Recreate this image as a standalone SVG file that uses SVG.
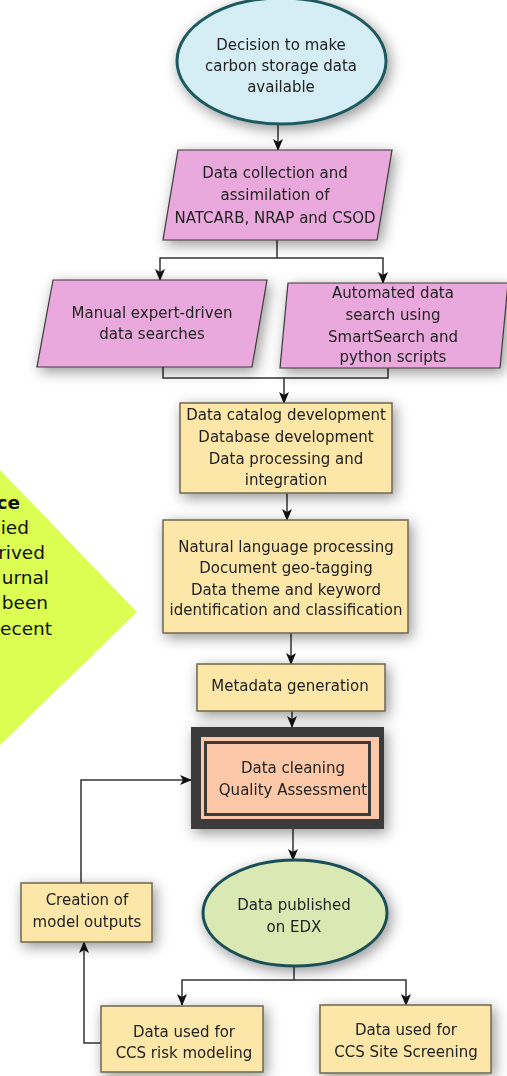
<svg xmlns="http://www.w3.org/2000/svg" width="507" height="1076" viewBox="0 0 507 1076">
  <style>
    .t { font-family: "DejaVu Sans", Verdana, sans-serif; font-size: 15px; fill: #222; text-anchor: middle; }
    .side { font-family: "DejaVu Sans", Verdana, sans-serif; font-size: 18.5px; fill: #111; text-anchor: end; }
    .box { fill: #fce6a8; stroke: #6e6650; stroke-width: 1.5; }
    .para { fill: #e9a9dc; stroke: #3a3a3a; stroke-width: 1.2; }
    .conn { fill: none; stroke: #333; stroke-width: 1.5; }
  </style>
  <defs>
    <filter id="shadow" x="-30%" y="-30%" width="160%" height="160%">
      <feDropShadow dx="3" dy="4" stdDeviation="7" flood-color="#000" flood-opacity="0.42"/>
    </filter>
    <marker id="arrow" viewBox="0 0 12 10" refX="11" refY="5" markerWidth="12" markerHeight="10" markerUnits="userSpaceOnUse" orient="auto">
      <path d="M0,0 L12,5 L0,10 L3,5 z" fill="#111"/>
    </marker>
  </defs>

  <rect width="507" height="1076" fill="#ffffff"/>

  <!-- side callout pointing right -->
  <g id="side-note">
    <polygon points="0,470 137,612 0,745" fill="#dcfd52"/>
    <text class="side" x="20" y="509" font-weight="bold">ce</text>
    <text class="side" x="29" y="534">ied</text>
    <text class="side" x="45" y="559">rived</text>
    <text class="side" x="49" y="584">urnal</text>
    <text class="side" x="48" y="609">been</text>
    <text class="side" x="52" y="635">ecent</text>
  </g>

  <!-- connectors -->
  <g id="connectors">
    <path class="conn" d="M278,124 V150" marker-end="url(#arrow)"/>
    <path class="conn" d="M277,240 V258 H160 V280" marker-end="url(#arrow)"/>
    <path class="conn" d="M277,258 H383 V283" marker-end="url(#arrow)"/>
    <path class="conn" d="M163,367 V378 H284 V403" marker-end="url(#arrow)"/>
    <path class="conn" d="M388,368 V378 H284"/>
    <path class="conn" d="M287,493 V520" marker-end="url(#arrow)"/>
    <path class="conn" d="M291,633 V664" marker-end="url(#arrow)"/>
    <path class="conn" d="M292,711 V727" marker-end="url(#arrow)"/>
    <path class="conn" d="M293,829 V860" marker-end="url(#arrow)"/>
    <path class="conn" d="M294,966 V980 H182 V1005" marker-end="url(#arrow)"/>
    <path class="conn" d="M294,980 H406 V1005" marker-end="url(#arrow)"/>
    <path class="conn" d="M101,1043 H84 V942" marker-end="url(#arrow)"/>
    <path class="conn" d="M81,883 V780 H191" marker-end="url(#arrow)"/>
  </g>

  <g id="decision" filter="url(#shadow)">
    <ellipse cx="281.5" cy="61" rx="104.5" ry="63" fill="#d5edf4" stroke="#1e5a60" stroke-width="3"/>
    <text class="t" x="281" y="50">Decision to make</text>
    <text class="t" x="281" y="71">carbon storage data</text>
    <text class="t" x="281" y="92">available</text>
  </g>

  <g id="collection" filter="url(#shadow)">
    <polygon class="para" points="178,150 392,150 377,240 163,240"/>
    <text class="t" x="275" y="178">Data collection and</text>
    <text class="t" x="275" y="200">assimilation of</text>
    <text class="t" x="275" y="223">NATCARB, NRAP and CSOD</text>
  </g>

  <g id="manual" filter="url(#shadow)">
    <polygon class="para" points="53,280 267,280 252,367 37,367"/>
    <text class="t" x="152" y="318">Manual expert-driven</text>
    <text class="t" x="152" y="339">data searches</text>
  </g>

  <g id="automated" filter="url(#shadow)">
    <polygon class="para" points="288,283 508,283 500,368 280,368"/>
    <text class="t" x="393" y="298">Automated data</text>
    <text class="t" x="393" y="320">search using</text>
    <text class="t" x="393" y="342">SmartSearch and</text>
    <text class="t" x="393" y="362">python scripts</text>
  </g>

  <g id="catalog" filter="url(#shadow)">
    <rect class="box" x="180" y="403" width="212" height="90"/>
    <text class="t" x="286" y="420">Data catalog development</text>
    <text class="t" x="286" y="442">Database development</text>
    <text class="t" x="286" y="464">Data processing and</text>
    <text class="t" x="286" y="485">integration</text>
  </g>

  <g id="nlp" filter="url(#shadow)">
    <rect class="box" x="163" y="520" width="245" height="113"/>
    <text class="t" x="286" y="552">Natural language processing</text>
    <text class="t" x="286" y="573">Document geo-tagging</text>
    <text class="t" x="286" y="595">Data theme and keyword</text>
    <text class="t" x="286" y="615">identification and classification</text>
  </g>

  <g id="metadata" filter="url(#shadow)">
    <rect class="box" x="197" y="664" width="188" height="47"/>
    <text class="t" x="290" y="691">Metadata generation</text>
  </g>

  <g id="cleaning" filter="url(#shadow)">
    <rect x="191" y="727" width="193" height="102" fill="#3a3a3a"/>
    <rect x="201" y="737" width="178" height="82" fill="#fdc8a8"/>
    <rect x="205.5" y="742.5" width="164" height="72" fill="none" stroke="#3a3a3a" stroke-width="3"/>
    <text class="t" x="293" y="773">Data cleaning</text>
    <text class="t" x="293" y="795">Quality Assessment</text>
  </g>

  <g id="published" filter="url(#shadow)">
    <ellipse cx="295" cy="913" rx="92" ry="53" fill="#dae8b4" stroke="#1b5055" stroke-width="3"/>
    <text class="t" x="294" y="910">Data published</text>
    <text class="t" x="294" y="932">on EDX</text>
  </g>

  <g id="model-outputs" filter="url(#shadow)">
    <rect class="box" x="21" y="883" width="131" height="59"/>
    <text class="t" x="87" y="905">Creation of</text>
    <text class="t" x="87" y="927">model outputs</text>
  </g>

  <g id="risk-modeling" filter="url(#shadow)">
    <rect class="box" x="101" y="1006" width="162" height="66"/>
    <text class="t" x="184" y="1037">Data used for</text>
    <text class="t" x="184" y="1058">CCS risk modeling</text>
  </g>

  <g id="site-screening" filter="url(#shadow)">
    <rect class="box" x="320" y="1005" width="171" height="68" stroke="#4a4a6a"/>
    <text class="t" x="406" y="1035">Data used for</text>
    <text class="t" x="406" y="1057">CCS Site Screening</text>
  </g>
</svg>
